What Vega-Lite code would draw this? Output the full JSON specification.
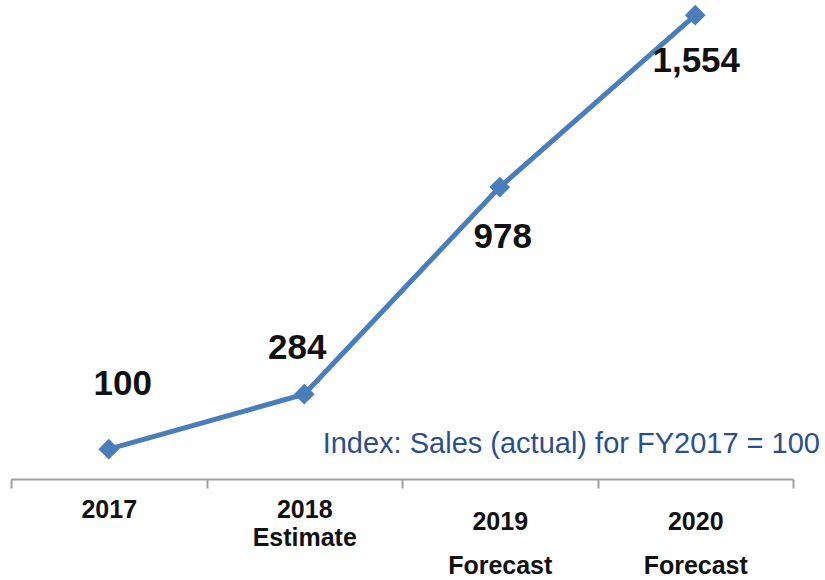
{
  "$schema": "https://vega.github.io/schema/vega-lite/v6.json",
  "width": 782,
  "height": 479,
  "autosize": {"type": "none"},
  "padding": {"left": 11, "top": 0, "right": 32, "bottom": 101},
  "background": "white",
  "config": {"view": {"stroke": null}},
  "data": {
    "values": [
      {"year": "2017", "index": 100},
      {"year": "2018", "index": 284},
      {"year": "2019", "index": 978},
      {"year": "2020", "index": 1554}
    ]
  },
  "encoding": {
    "x": {
      "field": "year",
      "type": "nominal",
      "sort": null,
      "scale": {"paddingInner": 0, "paddingOuter": 0},
      "axis": {
        "title": null,
        "domainColor": "#A0A0A0",
        "domainWidth": 2,
        "tickColor": "#A0A0A0",
        "tickWidth": 2,
        "tickSize": 9,
        "tickBand": "extent",
        "labelAngle": 0,
        "labelOverlap": false,
        "labelBaseline": "top",
        "labelLineHeight": {"expr": "datum.value == '2018' ? 28 : 44"},
        "labelExpr": "datum.value == '2018' ? ['2018','Estimate'] : (datum.value == '2019' || datum.value == '2020') ? [datum.value,'Forecast'] : datum.value",
        "labelFont": "Liberation Sans",
        "labelFontSize": 25,
        "labelPadding": {"condition": {"test": "datum.value == '2019' || datum.value == '2020'", "value": 21}, "value": 9},
        "labelFontWeight": "bold",
        "labelColor": "#111111"
      }
    },
    "y": {
      "field": "index",
      "type": "quantitative",
      "scale": {"domain": [0, 1605], "nice": false, "zero": true},
      "axis": null
    }
  },
  "layer": [
    {"mark": {"type": "line", "color": "#4A7EBB", "strokeWidth": 5}},
    {"mark": {"type": "point", "shape": "diamond", "filled": true, "size": 430, "color": "#4A7EBB", "opacity": 1}},
    {
      "transform": [{"filter": "datum.year == '2017'"}],
      "mark": {"type": "text", "font": "Liberation Sans", "fontWeight": "bold", "fontSize": 35, "color": "#111111", "align": "center", "baseline": "alphabetic", "dx": 14, "dy": -54},
      "encoding": {"text": {"field": "index", "type": "quantitative", "format": ","}}
    },
    {
      "transform": [{"filter": "datum.year == '2018'"}],
      "mark": {"type": "text", "font": "Liberation Sans", "fontWeight": "bold", "fontSize": 35, "color": "#111111", "align": "center", "baseline": "alphabetic", "dx": -7, "dy": -35},
      "encoding": {"text": {"field": "index", "type": "quantitative", "format": ","}}
    },
    {
      "transform": [{"filter": "datum.year == '2019'"}],
      "mark": {"type": "text", "font": "Liberation Sans", "fontWeight": "bold", "fontSize": 35, "color": "#111111", "align": "center", "baseline": "alphabetic", "dx": 3, "dy": 61},
      "encoding": {"text": {"field": "index", "type": "quantitative", "format": ","}}
    },
    {
      "transform": [{"filter": "datum.year == '2020'"}],
      "mark": {"type": "text", "font": "Liberation Sans", "fontWeight": "bold", "fontSize": 35, "color": "#111111", "align": "center", "baseline": "alphabetic", "dx": 1, "dy": 57},
      "encoding": {"text": {"field": "index", "type": "quantitative", "format": ","}}
    },
    {
      "data": {"values": [{"note": "Index: Sales (actual) for FY2017 = 100", "year": "2020", "index": 87}]},
      "mark": {"type": "text", "font": "Liberation Sans", "fontSize": 29, "color": "#2B4F8C", "align": "right", "baseline": "alphabetic", "dx": 27},
      "encoding": {
        "x": {"field": "year", "type": "nominal", "bandPosition": 1},
        "text": {"field": "note"}
      }
    }
  ]
}
